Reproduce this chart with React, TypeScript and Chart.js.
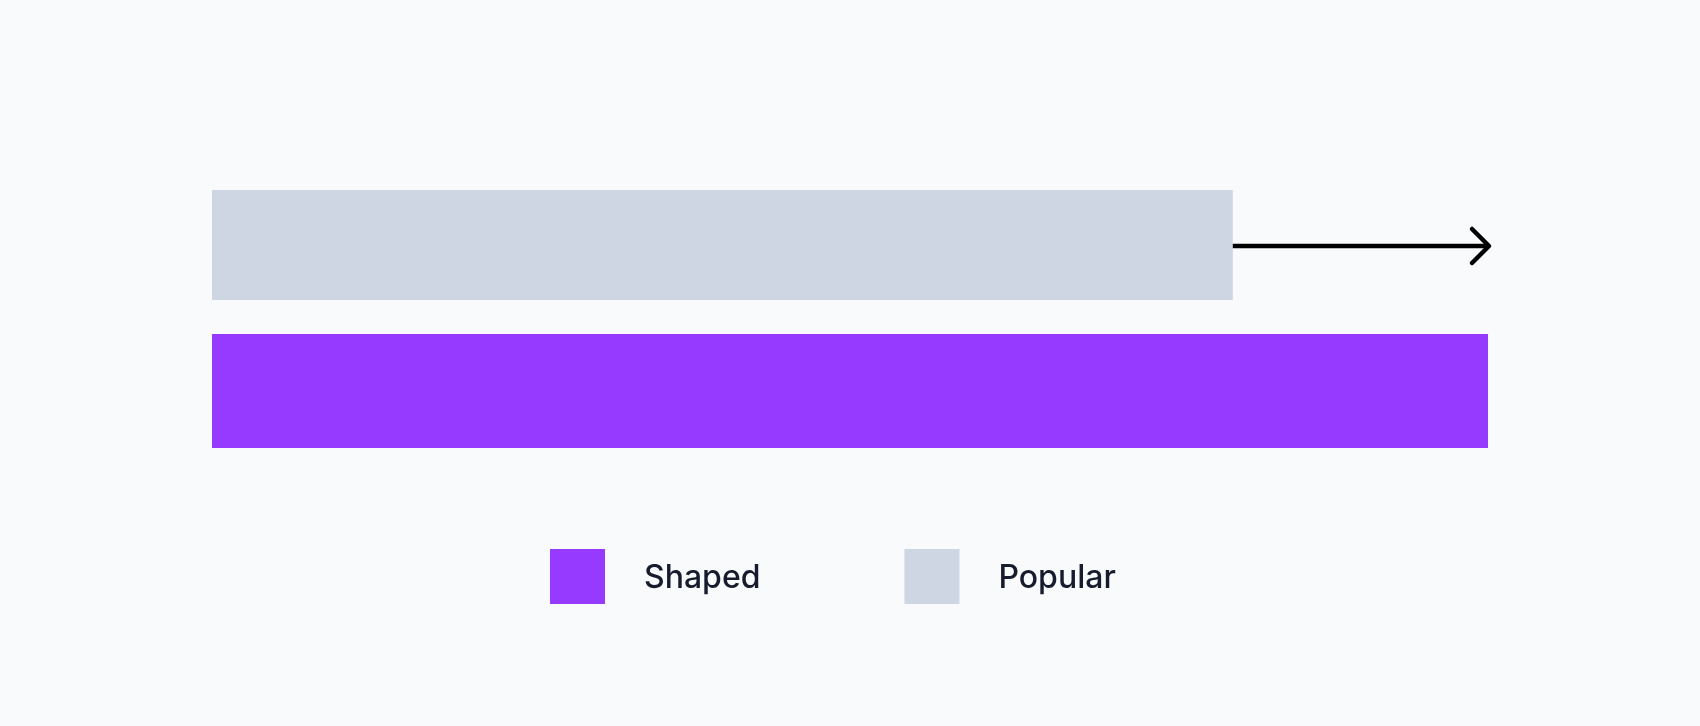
import React, { useEffect, useRef } from 'react';
import { Chart, registerables } from 'chart.js';

Chart.register(...registerables);

// ---- data ----
const categories = ['Reach'];
const seriesNames = ['Popular', 'Shaped'];
const popularValues = [80];
const shapedValues = [100];
const legendOrder = ['Shaped', 'Popular'];

const seriesColors: Record<string, string> = {
  Shaped: '#973aff',
  Popular: '#cdd6e2',
};

const arrowPlugin = {
  id: 'growthArrow',
  afterDatasetsDraw(chart: any) {
    const ctx = chart.ctx;
    const pop = chart.getDatasetMeta(0).data[0];
    const sh = chart.getDatasetMeta(1).data[0];
    if (!pop || !sh) return;
    const x0 = pop.x;
    const x1 = sh.x + 1;
    const y = pop.y + 1;
    ctx.save();
    ctx.strokeStyle = '#000000';
    ctx.lineWidth = 4.5;
    ctx.lineCap = 'butt';
    ctx.beginPath();
    ctx.moveTo(x0, y);
    ctx.lineTo(x1 - 1, y);
    ctx.stroke();
    ctx.lineCap = 'round';
    ctx.lineJoin = 'round';
    ctx.beginPath();
    ctx.moveTo(x1 - 17, y - 17);
    ctx.lineTo(x1, y);
    ctx.lineTo(x1 - 17, y + 17);
    ctx.stroke();
    ctx.restore();
  },
};

const customLegendPlugin = {
  id: 'customLegend',
  afterDraw(chart: any, _args: any, opts: any) {
    const ctx = chart.ctx;
    const box = opts.boxSize;
    const gap = opts.textGap;
    const itemGap = opts.itemGap;
    let x = opts.startX;
    const y = opts.top;
    ctx.save();
    ctx.font = opts.font;
    ctx.textBaseline = 'middle';
    ctx.textAlign = 'left';
    legendOrder.forEach((name) => {
      const ds = chart.data.datasets.find((d: any) => d.label === name);
      if (!ds) return;
      ctx.fillStyle = ds.backgroundColor;
      ctx.fillRect(x, y, box, box);
      ctx.fillStyle = opts.color;
      const tx = x + box + gap;
      ctx.fillText(name, tx, y + box / 2 + 2);
      const w = ctx.measureText(name).width;
      x = tx + w + itemGap;
    });
    ctx.restore();
  },
};

export default function App() {
  const canvasRef = useRef<HTMLCanvasElement | null>(null);

  useEffect(() => {
    if (!canvasRef.current) return;
    const chart = new Chart(canvasRef.current, {
      type: 'bar',
      data: {
        labels: categories,
        datasets: [
          {
            label: seriesNames[0],
            data: popularValues,
            backgroundColor: seriesColors.Popular,
            borderWidth: 0,
            barPercentage: 0.753,
          },
          {
            label: seriesNames[1],
            data: shapedValues,
            backgroundColor: seriesColors.Shaped,
            borderWidth: 0,
            barPercentage: 0.781,
          },
        ],
      },
      options: {
        indexAxis: 'y',
        responsive: true,
        maintainAspectRatio: false,
        animation: false,
        datasets: {
          bar: { categoryPercentage: 1 },
        },
        layout: {
          padding: { left: 212, right: 212, top: 172, bottom: 262 },
        },
        scales: {
          x: { display: false, min: 0, max: 100 },
          y: { display: false },
        },
        plugins: {
          legend: { display: false },
          tooltip: { enabled: false },
          customLegend: {
            boxSize: 55,
            textGap: 39,
            itemGap: 144,
            startX: 550,
            top: 549,
            font: '500 32px Inter, "Noto Sans", sans-serif',
            color: '#161b2e',
          },
        } as any,
      },
      plugins: [arrowPlugin, customLegendPlugin],
    });
    return () => chart.destroy();
  }, []);

  return (
    <div
      style={{
        position: 'fixed',
        left: 0,
        top: 0,
        width: 1700,
        height: 726,
        background: '#f9fafc',
      }}
    >
      <canvas ref={canvasRef} />
    </div>
  );
}
